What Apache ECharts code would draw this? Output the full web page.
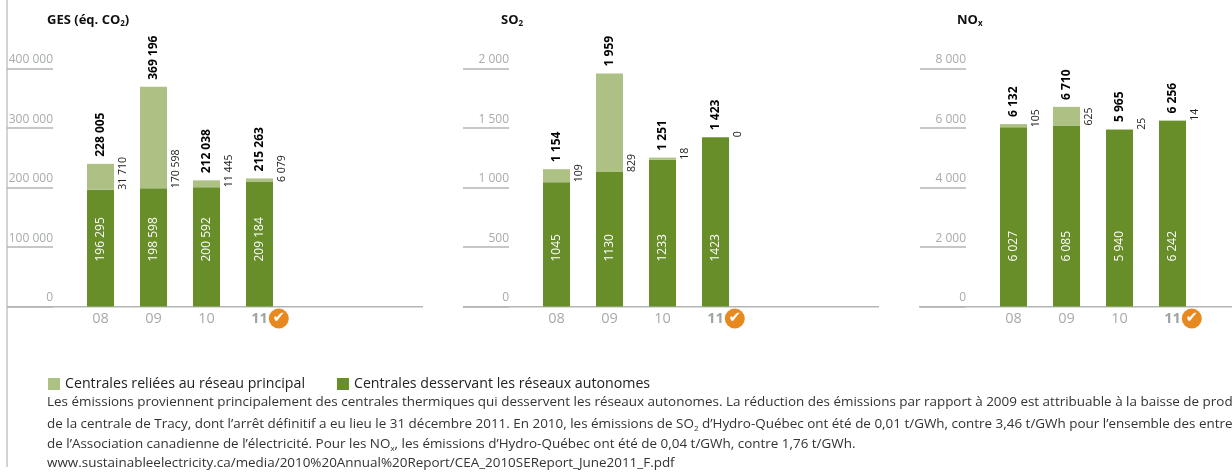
<!DOCTYPE html>
<html><head><meta charset="utf-8">
<style>html,body{margin:0;padding:0;background:#fff;overflow:hidden}#c{width:1232px;height:472px}</style>
<script src="https://cdn.jsdelivr.net/npm/echarts@6/dist/echarts.min.js"></script>
</head><body><div id="c"></div>
<script>
const years = ['08','09','10','11'];
const nameMain = 'Centrales reliées au réseau principal';
const nameAuto = 'Centrales desservant les réseaux autonomes';
// bar heights
const gesAuto = [196295,198598,200592,209184];
const gesMain = [43500,170598,11445,6079];
const so2Auto = [1045,1130,1233,1423];
const so2Main = [109,829,18,0];
const noxAuto = [6027,6085,5940,6242];
const noxMain = [105,625,25,14];
// printed labels
const gesTotalText = ['228 005','369 196','212 038','215 263'];
const gesMainText = ['31 710','170 598','11 445','6 079'];
const gesAutoText = ['196 295','198 598','200 592','209 184'];
const so2TotalText = ['1 154','1 959','1 251','1 423'];
const so2MainText = ['109','829','18','0'];
const so2AutoText = ['1045','1130','1233','1423'];
const noxTotalText = ['6 132','6 710','5 965','6 256'];
const noxMainText = ['105','625','25','14'];
const noxAutoText = ['6 027','6 085','5 940','6 242'];
const gesTicks = {max:400000, interval:100000};
const so2Ticks = {max:2000, interval:500};
const noxTicks = {max:8000, interval:2000};
const noteLines = [
 'Les émissions proviennent principalement des centrales thermiques qui desservent les réseaux autonomes. La réduction des émissions par rapport à 2009 est attribuable à la baisse de production',
 'de la centrale de Tracy, dont l’arrêt définitif a eu lieu le 31 décembre 2011. En 2010, les émissions de SO{s|2} d’Hydro-Québec ont été de 0,01 t/GWh, contre 3,46 t/GWh pour l’ensemble des entreprises',
 'de l’Association canadienne de l’électricité. Pour les NO{s|x}, les émissions d’Hydro-Québec ont été de 0,04 t/GWh, contre 1,76 t/GWh.',
 'www.sustainableelectricity.ca/media/2010%20Annual%20Report/CEA_2010SEReport_June2011_F.pdf'
];
const FONT = 'Open Sans';
const DARK='#688e2a', LIGHT='#adc184', GRID='#b4b6b6', GREY='#a8abab';
const fmtNum = v => String(v).replace(/\B(?=(\d{3})+$)/g,' ');
const panels = [
 {x:74, axisLeft:7, axisRight:423, title:'GES (éq. CO{s|2})', titleX:47, auto:gesAuto, main:gesMain, t:gesTotalText, m:gesMainText, a:gesAutoText, ticks:gesTicks},
 {x:530, axisLeft:463, axisRight:879, title:'SO{s|2}', titleX:501, auto:so2Auto, main:so2Main, t:so2TotalText, m:so2MainText, a:so2AutoText, ticks:so2Ticks},
 {x:987, axisLeft:919, axisRight:1232, title:'NO{s|x}', titleX:957, auto:noxAuto, main:noxMain, t:noxTotalText, m:noxMainText, a:noxAutoText, ticks:noxTicks}
];
const grid=[],xAxis=[],yAxis=[],series=[],title=[],graphic=[];
panels.forEach((p,i)=>{
  grid.push({left:p.x,width:212,top:68.5,height:238});
  xAxis.push({type:'category',gridIndex:i,data:years,
    axisLine:{show:false},axisTick:{show:false},
    axisLabel:{margin:2,interval:0,color:GREY,fontFamily:FONT,fontSize:14.5,lineHeight:20,
      formatter:v=>v==='11'?'{sp|}{b|11}{g|}{k|✔}':v,
      rich:{sp:{width:21,lineHeight:20},g:{width:1,lineHeight:20},b:{fontWeight:'bold',color:'#a0a3a3',fontFamily:FONT,fontSize:14.5,lineHeight:20},
        k:{backgroundColor:'#e8891f',color:'#fff',borderRadius:10,width:20,height:20,lineHeight:20,align:'center',fontFamily:'DejaVu Sans',fontSize:15,fontWeight:'bold'}}}});
  yAxis.push({type:'value',gridIndex:i,min:0,max:p.ticks.max,interval:p.ticks.interval,offset:21,
    axisLine:{show:false},splitLine:{show:false},
    axisTick:{show:true,length:46,lineStyle:{color:GRID,width:1.5}},
    axisLabel:{margin:0,color:GREY,fontFamily:FONT,fontSize:12,verticalAlign:'bottom',lineHeight:15,padding:[0,0,1,0],formatter:fmtNum}});
  const rot={rotate:90,align:'left',verticalAlign:'middle',fontFamily:FONT,fontSize:12};
  series.push({type:'bar',name:nameAuto,stack:'s'+i,xAxisIndex:i,yAxisIndex:i,barWidth:27,data:p.auto,itemStyle:{color:DARK},
    label:{show:true,position:'insideBottom',distance:45,color:'#fff',...rot,formatter:o=>p.a[o.dataIndex]}});
  series.push({type:'bar',name:nameMain,stack:'s'+i,xAxisIndex:i,yAxisIndex:i,barWidth:27,data:p.main,itemStyle:{color:LIGHT},
    label:{show:true,position:['133%','100%'],color:'#222',...rot,fontSize:10.5,formatter:o=>p.m[o.dataIndex]}});
  series.push({type:'bar',name:'Total',stack:'s'+i,xAxisIndex:i,yAxisIndex:i,barWidth:27,data:years.map(()=>0),itemStyle:{color:'transparent'},
    label:{show:true,position:'top',distance:7,color:'#000',...rot,fontWeight:'bold',formatter:o=>p.t[o.dataIndex]}});
  title.push({text:p.title,left:p.titleX-5,top:7,textStyle:{fontFamily:FONT,fontSize:13,fontWeight:'bold',color:'#111',
    rich:{s:{fontSize:8,fontWeight:'bold',fontFamily:FONT,verticalAlign:'bottom',padding:[8,0,0,0],color:'#111'}}}});
  graphic.push({type:'line',shape:{x1:p.axisLeft,y1:306.7,x2:p.axisRight,y2:306.7},style:{stroke:GRID,lineWidth:1.5},z:0});
});
graphic.push({type:'line',shape:{x1:7,y1:0,x2:7,y2:467},style:{stroke:'#b4b6b6',lineWidth:1.2}});
noteLines.forEach((t,i)=>{
  title.push({text:t,left:42,top:391+i*20.3,textStyle:{fontFamily:FONT,fontSize:13.45,fontWeight:'normal',color:'#333',
    rich:{s:{fontSize:8,fontFamily:FONT,verticalAlign:'bottom',padding:[8,0,0,0],color:'#333'}}}});
});
const chart = echarts.init(document.getElementById('c'),null,{renderer:'canvas'});
chart.setOption({animation:false,backgroundColor:'#fff',title,grid,xAxis,yAxis,series,graphic,
  legend:{data:[nameMain,nameAuto],left:43,top:372,icon:'rect',itemWidth:12,itemHeight:12,itemGap:32,
    textStyle:{fontFamily:FONT,fontSize:14.2,color:'#222'},selectedMode:false}});
</script></body></html>
